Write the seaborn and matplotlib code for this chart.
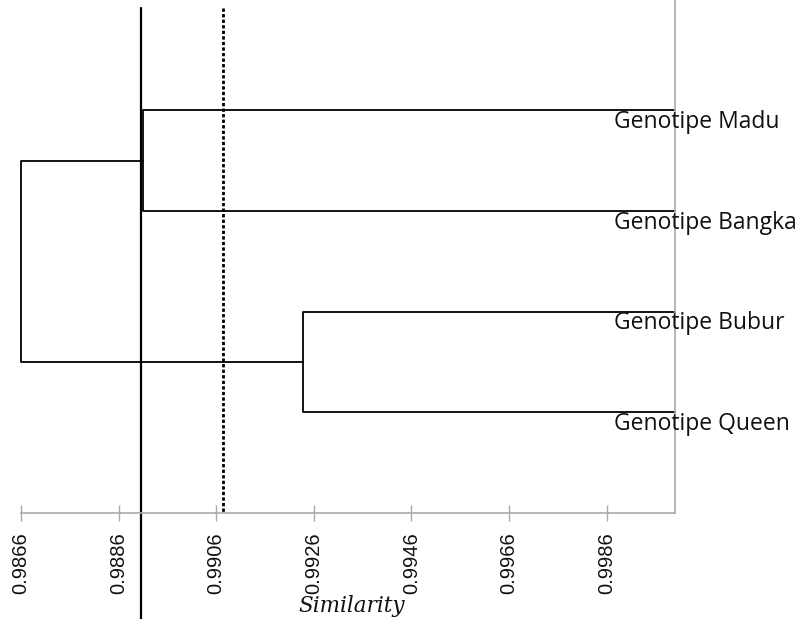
import pandas as pd
import matplotlib.pyplot as plt
import seaborn as sns

# Dendrogram data (similarity values)
genotypes = ["Genotipe Madu", "Genotipe Bangka", "Genotipe Bubur", "Genotipe Queen"]
leaf_pos = [4, 3, 2, 1]
leaf_sim = 1.0
# merges: (left child, right child, similarity)
merge_left = ["Genotipe Madu", "Genotipe Bubur", "A"]
merge_right = ["Genotipe Bangka", "Genotipe Queen", "B"]
merge_names = ["A", "B", "root"]
merge_sim = [0.9891, 0.99237, 0.9866]
cut_solid = 0.98906
cut_dotted = 0.99073
xticks = [0.9866, 0.9886, 0.9906, 0.9926, 0.9946, 0.9966, 0.9986]

# build node positions and the U-shaped links of the tree
node_x = {g: leaf_sim for g in genotypes}
node_y = {g: p for g, p in zip(genotypes, leaf_pos)}
rows = []
for name, a, b, h in zip(merge_names, merge_left, merge_right, merge_sim):
    pts = [(node_x[a], node_y[a]), (h, node_y[a]), (h, node_y[b]), (node_x[b], node_y[b])]
    for i, (x, y) in enumerate(pts):
        rows.append({"link": name, "order": i, "sim": x, "pos": y})
    node_x[name] = h
    node_y[name] = (node_y[a] + node_y[b]) / 2
links = pd.DataFrame(rows)

sns.set_style("white")
fig = plt.figure(figsize=(8.06, 6.19), dpi=100)
ax = fig.add_axes([21 / 806, 1 - 513 / 619, 654 / 806, 513 / 619])

sns.lineplot(data=links, x="sim", y="pos", units="link", estimator=None, sort=False,
             color="black", linewidth=1.3, ax=ax)
for ln in ax.lines:
    ln.set_clip_on(False)

# cut-off lines
ax.plot([cut_solid, cut_solid], [5.015, -1.053], color="black", lw=1.6, clip_on=False)
ax.plot([cut_dotted, cut_dotted], [5.015, 0], color="black", lw=2, linestyle=(0, (1.2, 0.8)))

# leaf labels
for g, p in zip(genotypes, leaf_pos):
    ax.annotate(g, xy=(leaf_sim, p), xytext=(-44, -8.5), textcoords="offset points",
                ha="left", va="center", fontsize=16.5, family="Open Sans", color="#111111",
                annotation_clip=False)

ax.set_xlim(0.9866, 1.0)
ax.set_ylim(0, 5.094)
ax.set_xticks(xticks)
ax.set_xticklabels([f"{t:.4f}" for t in xticks], rotation=90, fontsize=14.5,
                   family="Liberation Sans", color="#111111")
ax.set_yticks([])
ax.set_xlabel("")
ax.set_ylabel("")
ax.tick_params(axis="x", direction="inout", length=12, width=1, color="#aaaaaa", pad=8,
               bottom=True)
for s in ["top", "left"]:
    ax.spines[s].set_visible(False)
for s in ["bottom", "right"]:
    ax.spines[s].set_color("#aaaaaa")
    ax.spines[s].set_linewidth(1.2)

fig.text(352 / 806, 1 - 606 / 619, "Similarity", ha="center", va="center",
         fontsize=15.5, family="DejaVu Serif", style="italic", color="#111111")

fig.savefig("out.png", dpi=100)
